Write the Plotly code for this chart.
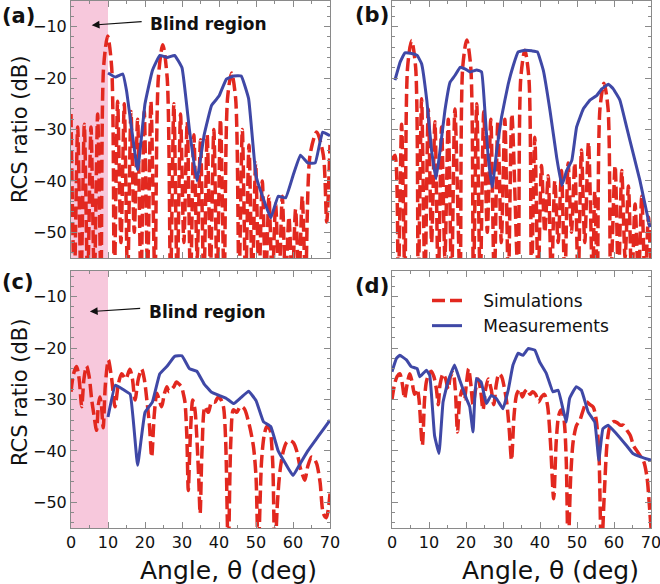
import plotly.graph_objects as go

# ---------------- data ----------------
# Panel (a) simulation
sim_a_x = [0, 0.9, 1.8, 2.7, 3.6, 4.5, 5.4, 6.3, 7.2, 8.1, 8.8, 9.9, 11.0, 11.7,
           12.6, 13.5, 14.4, 15.3, 16.2, 17.1, 18.0, 18.9, 19.8, 20.7, 21.6, 22.7,
           23.6, 24.8, 26.0, 26.9, 27.8, 28.7, 29.6, 30.5, 31.4, 32.3, 33.2, 34.1,
           35.0, 35.9, 36.8, 37.7, 38.6, 39.5, 40.4, 41.4, 42.3, 43.4, 44.5, 45.4,
           46.3, 47.2, 48.1, 49.0, 49.9, 50.8, 51.7, 52.6, 53.5, 54.4, 55.3, 56.2,
           57.1, 58.0, 58.9, 59.8, 60.7, 61.6, 62.5, 63.4, 64.6, 66.4, 68.2, 69.1, 70]
sim_a_y = [-27, -60, -29.5, -60, -29, -60, -29.5, -60, -27, -60, -18, -11.8, -18, -60,
           -24.5, -52, -25, -60, -26.5, -50, -28, -60, -26.5, -58, -24.5, -60,
           -20, -13.5, -20, -60, -25, -60, -27, -52, -28.5, -60, -31, -55, -32, -60,
           -31, -57, -30, -60, -28, -60, -24, -19, -24, -60, -30, -60, -33, -60,
           -36.5, -60, -40, -60, -43, -60, -44.5, -60, -43, -60, -47, -60, -45.5,
           -60, -43, -60, -35, -30.5, -35, -48, -33]
meas_a_x = [10, 12, 14, 15, 18, 20, 22, 24, 26, 28, 30, 32, 34, 36, 38, 40, 42, 44,
            46, 48, 50, 52, 54, 56, 58, 60, 62, 64, 66, 68, 70]
meas_a_y = [-19, -19.8, -19.2, -22.4, -37.8, -25, -18.5, -15.6, -16, -15.6, -18,
            -30, -40, -31, -25.3, -23.5, -20.2, -19.6, -19.6, -24, -39, -43.5,
            -47.2, -43, -43.3, -39, -35, -36.5, -36.5, -30.5, -31.2]

# Panel (b)
sim_b_x = [0, 0.8, 1.7, 2.6, 3.5, 4.2, 5.3, 6.4, 7.1, 8.0, 8.9, 9.8, 10.7, 11.6,
           12.5, 13.4, 14.3, 15.2, 16.1, 17.0, 18.4, 19.1, 20.2, 21.3, 22.0, 22.9,
           23.85, 24.8, 25.75, 26.7, 27.65, 28.6, 29.55, 30.5, 31.45, 32.4, 34.1,
           34.8, 35.9, 37.0, 37.7, 38.6, 39.5, 40.4, 41.3, 42.2, 43.1, 44.0, 44.9,
           45.8, 46.7, 47.6, 48.5, 49.4, 50.3, 51.2, 52.1, 53.1, 54.2, 54.8, 55.5,
           56.2, 57.3, 58.4, 59.1, 60.3, 61.2, 62.1, 63.0, 63.9, 64.8, 65.7, 66.6,
           67.5, 68.4, 69.3, 70]
sim_b_y = [-36, -35, -60, -29, -60, -18, -12.7, -18, -60, -24, -60, -26, -52,
           -28.5, -60, -29.5, -55, -28, -60, -26, -60, -18, -12.6, -18, -60, -25,
           -60, -26.5, -50, -28, -60, -28.5, -52, -28, -60, -27, -60, -20, -14.6,
           -20, -60, -31.5, -60, -37, -50, -39, -60, -40, -52, -38, -60, -36.5,
           -50, -36.5, -60, -34, -52, -32.5, -60, -42, -60, -26, -21, -26, -60,
           -37, -60, -38, -55, -41, -60, -44.5, -60, -43, -60, -47, -58]
meas_b_x = [0.8, 2.2, 3.5, 5.3, 6.8, 8.0, 9.4, 10.7, 11.9, 13.0, 14.3, 15.7, 17.0,
            18.4, 19.7, 21.1, 22.9, 24.2, 25.1, 26.0, 27.1, 28.3, 29.6, 31.4, 32.8,
            34.1, 35.9, 37.8, 39.3, 40.9, 42.7, 44.5, 45.9, 47.2, 48.6, 49.9, 51.7,
            53.5, 55.3, 56.7, 58.5, 59.8, 61.6, 63.4, 65.2, 67.0, 69.7]
meas_b_y = [-20.4, -16.9, -15.1, -15.2, -15.6, -17.2, -24.3, -34.1, -39.6, -34,
            -26.3, -20.8, -19.5, -17.9, -18.2, -18.8, -18.4, -18.8, -26.3, -35.4,
            -41.2, -34.1, -27.6, -21.2, -17.5, -14.9, -14.6, -14.7, -14.9, -18.5,
            -26.3, -35.4, -40.9, -38, -36, -29.5, -26, -24.3, -23.4, -22.1, -21.2,
            -22.1, -24.3, -29.5, -34.7, -39.9, -49]

# Panel (c)
sim_c_x = [0, 0.7, 1.5, 2.2, 2.9, 3.5, 4.2, 4.9, 5.6, 6.2, 6.9, 7.4, 7.8, 8.2, 8.7,
           9.3, 10.1, 11.0, 11.9, 12.8, 13.7, 14.8, 15.9, 16.6, 17.3, 18.2, 19.1,
           19.8, 20.5, 21.2, 21.8, 22.5, 23.2, 23.8, 24.5, 25.2, 25.9, 26.5, 27.2,
           27.8, 28.5, 29.2, 29.9, 30.4, 30.8, 31.3, 31.7, 32.2, 32.9, 33.5, 34.0,
           34.5, 34.9, 35.4, 36.2, 37.1, 38.0, 38.9, 39.8, 40.5, 41.2, 41.8, 42.5,
           43.2, 43.9, 44.8, 45.7, 46.4, 47.0, 48.2, 49.3, 50.0, 50.6, 51.5, 52.2,
           52.9, 53.4, 53.8, 54.5, 55.1, 55.8, 56.5, 57.4, 58.3, 59.2, 60.1, 61.0,
           61.9, 62.5, 63.2, 64.0, 65.0, 65.7, 66.4, 67.3, 68.2, 69.0, 70]
sim_c_y = [-28.5, -25, -23.6, -26, -31.4, -26, -23.5, -25.5, -30.1, -33, -36, -31,
           -29.5, -31, -35.5, -27, -22.3, -26, -31.4, -27, -25, -26, -24.1, -26,
           -30.1, -26, -24.1, -26, -30.1, -35, -41.2, -33, -28.8, -30, -31.4, -29,
           -27.5, -28.5, -28, -27.5, -26.6, -27, -27.6, -29, -30.5, -37, -47.7, -38,
           -30.1, -32, -37.3, -45, -52.2, -40, -31.4, -32.5, -30.5, -30.5, -29.5,
           -30, -31.4, -38, -60, -38, -32, -32.5, -31.4, -31.5, -32, -35, -39.1,
           -45, -60, -42, -37, -35.3, -35.5, -35.9, -42, -60, -50, -43.8, -40,
           -38.3, -38, -38.4, -40, -43.1, -44.5, -45.7, -43, -41.2, -41.5, -42.5,
           -46, -52.2, -53, -48.3]
meas_c_x = [10, 12, 14, 16, 18, 20, 22, 24, 26, 28, 30, 32, 34, 36, 38, 40, 42, 44,
            46, 48, 50, 52, 54, 56, 58, 60, 62, 64, 66, 68, 70]
meas_c_y = [-33.4, -27.2, -28, -29, -42.8, -32.5, -30.5, -25, -23.5, -21.6, -21.5,
            -24, -24.5, -27, -28.6, -29.2, -29.8, -30.8, -29.6, -28.4, -30.2, -34.3,
            -35.3, -40, -42.5, -44.8, -42.4, -40, -38, -36, -34]

# Panel (d)
sim_d_x = [0, 0.7, 1.4, 2.1, 2.8, 3.4, 4.1, 4.8, 5.4, 6.1, 6.8, 7.3, 8.2, 8.8, 9.3,
           10.0, 10.6, 11.3, 12.0, 12.5, 13.0, 13.8, 14.5, 15.2, 15.8, 16.5, 17.1,
           17.7, 18.3, 19.0, 19.6, 20.1, 20.7, 21.3, 21.9, 22.6, 23.3, 24.0, 24.6,
           25.3, 26.0, 26.8, 27.5, 28.2, 28.9, 29.6, 30.3, 31.0, 31.7, 32.3, 33.0,
           33.7, 34.5, 35.2, 35.9, 36.6, 37.3, 38.0, 38.8, 39.6, 40.4, 41.2, 42.0,
           42.8, 43.7, 44.4, 45.1, 45.8, 46.5, 47.1, 47.6, 48.3, 49.0, 49.9, 50.8,
           51.7, 52.6, 53.5, 54.4, 55.2, 55.9, 56.6, 57.4, 58.2, 59.0, 59.9, 60.8,
           61.7, 62.6, 63.5, 64.4, 65.3, 66.2, 67.1, 68.0, 68.9, 69.5, 70]
sim_d_y = [-30, -27, -25.5, -25, -27, -29.8, -27, -25, -26.5, -29, -28, -30, -38.9,
           -30, -26.5, -25, -24.5, -25.5, -28, -31, -27, -25, -26, -28, -25.5,
           -24.8, -28, -36.3, -30, -28, -30, -27, -24, -27, -31, -28, -26, -28.5,
           -32, -28, -26, -28, -31, -27, -25, -25.5, -27.5, -30.5, -36, -41.8, -33,
           -29, -28, -29.5, -28.5, -28, -29, -28.5, -29, -30.5, -29.5, -29, -31,
           -38, -49.3, -38, -33, -32, -34, -42, -60, -45, -38, -35, -34, -32,
           -30.5, -31, -31.5, -34, -40, -60, -48, -38, -35, -34.3, -34.5, -35, -35,
           -36, -37, -39, -40, -41, -42, -45, -50, -55]
meas_d_x = [0, 1.2, 2.1, 3.9, 5.2, 6.8, 7.5, 9.3, 10.2, 11.5, 12.7, 13.8, 15.1, 16.9,
            18.3, 20.1, 21.0, 21.9, 22.8, 24.1, 25.5, 26.8, 28.2, 30.0, 31.4, 32.7,
            34.1, 35.4, 36.8, 38.6, 39.9, 41.7, 43.5, 44.9, 46.2, 47.1, 48.0, 49.8,
            51.2, 53.0, 54.8, 55.9, 57.0, 58.4, 60.6, 63.3, 65.1, 67.4, 70]
meas_d_y = [-24.6, -22, -21.4, -22.3, -23.6, -24, -25.6, -24.3, -25.3, -37, -40.5,
            -30.5, -26.6, -23.3, -26.2, -29.8, -31.4, -36.3, -25.9, -26.6, -30.8,
            -29.2, -29.8, -31.8, -28.2, -23.3, -21, -21.4, -20.1, -20.4, -22.7,
            -24.9, -28.5, -28.2, -31.8, -34.4, -29.8, -27.5, -28.2, -32.4, -34.4,
            -41.8, -35.7, -35, -36.6, -38.9, -40.5, -41.2, -41.8]

x_ticks = [0, 10, 20, 30, 40, 50, 60, 70]
y_ticks = [-10, -20, -30, -40, -50]
x_range = [0, 70]
y_range = [-55, -5]
blind_limit = 10
panel_labels = ["(a)", "(b)", "(c)", "(d)"]

# ---------------- style ----------------
W, H = 660, 584
RED = "#e2281f"
BLUE = "#3f48a6"
PINK = "#f7c8dc"
FONT = "DejaVu Sans"
AXC = "#8a8a8a"


def px(x):
    return x / W


def py(y):
    return 1 - y / H


fig = go.Figure()

panels = [
    (sim_a_x, sim_a_y, meas_a_x, meas_a_y, "x", "y"),
    (sim_b_x, sim_b_y, meas_b_x, meas_b_y, "x2", "y2"),
    (sim_c_x, sim_c_y, meas_c_x, meas_c_y, "x3", "y3"),
    (sim_d_x, sim_d_y, meas_d_x, meas_d_y, "x4", "y4"),
]
for i, (sx, sy, mx, my, xa, ya) in enumerate(panels):
    leg = (i == 3)
    fig.add_trace(go.Scatter(
        x=sx, y=sy, xaxis=xa, yaxis=ya, mode="lines",
        line=dict(color=RED, width=3.5, dash="13px,5px", shape="spline", smoothing=0.8),
        name="\u00a0\u00a0\u00a0Simulations", showlegend=leg))
    fig.add_trace(go.Scatter(
        x=mx, y=my, xaxis=xa, yaxis=ya, mode="lines",
        line=dict(color=BLUE, width=3, shape="spline", smoothing=0.3),
        name="\u00a0\u00a0\u00a0Measurements", showlegend=leg))

xdom_l = [px(71), px(330)]
xdom_r = [px(392), px(651)]
ydom_t = [py(258), py(1)]
ydom_b = [py(528), py(271)]


def xax(dom, anchor, labels):
    return dict(domain=dom, anchor=anchor, range=x_range, tickvals=x_ticks,
                showticklabels=labels, ticks="inside", ticklen=6, tickcolor=AXC,
                showline=True, linecolor=AXC, linewidth=1, mirror="allticks",
                showgrid=False, zeroline=False, automargin=False,
                ticklabeloverflow="allow",
                minor=dict(dtick=5, ticks="inside", ticklen=3, tickcolor=AXC, showgrid=False),
                tickfont=dict(family=FONT, size=16, color="#111"))


def yax(dom, anchor, labels):
    return dict(domain=dom, anchor=anchor, range=y_range, tickvals=y_ticks,
                showticklabels=labels, ticks="inside", ticklen=6, tickcolor=AXC,
                showline=True, linecolor=AXC, linewidth=1, mirror="allticks",
                showgrid=False, zeroline=False, automargin=False,
                ticklabeloverflow="allow",
                minor=dict(dtick=2, ticks="inside", ticklen=3, tickcolor=AXC, showgrid=False),
                tickfont=dict(family=FONT, size=16, color="#111"))


fig.update_layout(
    width=W, height=H,
    margin=dict(l=0, r=0, t=0, b=0, pad=0),
    paper_bgcolor="white", plot_bgcolor="white",
    font=dict(family=FONT, color="#111"),
    xaxis=xax(xdom_l, "y", False), yaxis=yax(ydom_t, "x", True),
    xaxis2=xax(xdom_r, "y2", False), yaxis2=yax(ydom_t, "x2", False),
    xaxis3=xax(xdom_l, "y3", True), yaxis3=yax(ydom_b, "x3", True),
    xaxis4=xax(xdom_r, "y4", True), yaxis4=yax(ydom_b, "x4", False),
    legend=dict(x=px(427), y=py(283), xanchor="left", yanchor="top",
                bgcolor="rgba(0,0,0,0)", font=dict(family=FONT, size=17),
                tracegroupgap=0, itemwidth=30),
    showlegend=True,
)

# blind region shading
for xr, yr in [("x", "y"), ("x3", "y3")]:
    fig.add_shape(type="rect", xref=xr, yref=yr + " domain", x0=0, x1=blind_limit,
                  y0=0, y1=1, fillcolor=PINK, line=dict(width=0), layer="below")

ann = []
# blind region arrows + text
for xr, yr, (hx, hy, tx, ty, lx, ly) in [
        ("x", "y", (5.6, -9.7, 19.5, -9.0, 20.8, -9.5)),
        ("x3", "y3", (5.1, -12.9, 19.1, -12.25, 20.5, -12.9))]:
    ann.append(dict(x=hx, y=hy, xref=xr, yref=yr, ax=tx, ay=ty, axref=xr, ayref=yr,
                    text="", showarrow=True, arrowhead=2, arrowsize=1.3,
                    arrowwidth=1.2, arrowcolor="#111"))
    ann.append(dict(x=lx, y=ly, xref=xr, yref=yr, text="<b>Blind region</b>",
                    showarrow=False, xanchor="left", yanchor="middle",
                    font=dict(family=FONT, size=17, color="#111")))

# panel labels
for lab, (x0, y0) in zip(panel_labels, [(0, 16), (353, 15), (0, 282), (353, 286)]):
    ann.append(dict(x=px(x0), y=py(y0), xref="paper", yref="paper", text="<b>%s</b>" % lab,
                    showarrow=False, xanchor="left", yanchor="middle",
                    font=dict(family=FONT, size=21, color="#111")))

# axis titles
for yc in [130, 393]:
    ann.append(dict(x=px(20), y=py(yc), xref="paper", yref="paper", text="RCS ratio (dB)",
                    textangle=-90, showarrow=False, xanchor="center", yanchor="middle",
                    font=dict(family=FONT, size=21, color="#111")))
for xc in [228, 550]:
    ann.append(dict(x=px(xc), y=py(570), xref="paper", yref="paper", text="Angle, \u03b8 (deg)",
                    showarrow=False, xanchor="center", yanchor="middle",
                    font=dict(family=FONT, size=25, color="#111")))

fig.update_layout(annotations=ann)
fig.write_html("out.html", config={"displayModeBar": False},
               post_script="document.body.style.margin='0px';document.body.style.overflow='hidden';")
